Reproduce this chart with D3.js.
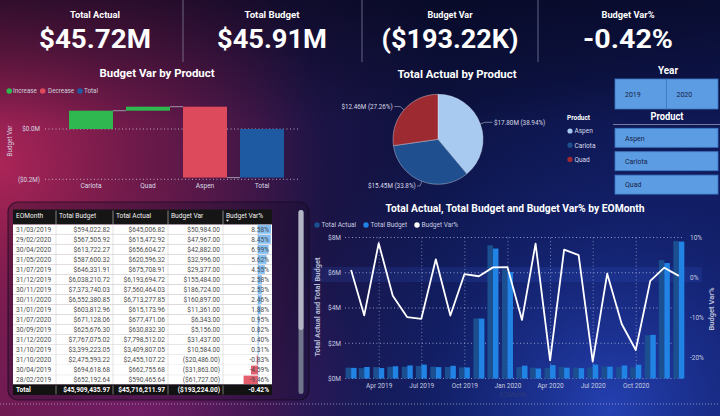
<!DOCTYPE html>
<html><head><meta charset="utf-8">
<script src="https://cdn.jsdelivr.net/npm/d3@7"></script>
<style>html,body{margin:0;padding:0;background:#0b1236;overflow:hidden}svg{display:block}</style>
</head><body><svg id="c" width="720" height="416"></svg>
<script>
// ---------------- DATA ----------------
const eoMonths = ["2019-01-31","2019-02-28","2019-03-31","2019-04-30","2019-05-31","2019-06-30","2019-07-31","2019-08-31","2019-09-30","2019-10-31","2019-11-30","2019-12-31","2020-01-31","2020-02-29","2020-03-31","2020-04-30","2020-05-31","2020-06-30","2020-07-31","2020-08-31","2020-09-30","2020-10-31","2020-11-30","2020-12-31"];
const totalBudget = [603812.96,652192.64,594022.82,694618.68,740000,790000,646331.91,720000,625676.30,3399223.05,7373740.03,6038210.72,730000,567505.92,760000,613722.27,587600.32,790000,671128.06,740000,776601.20,2475593.22,6552380.85,7767075.02];
const totalActual = [615173.96,590465.64,645006.82,662755.68,666624,708364,675708.91,651544,630832.30,3409807.05,7560464.03,6193694.72,652534,615472.92,602504,656604.27,620596.32,623834,677471.06,654044,635813.20,2455107.22,6713277.85,7798512.02];

const wfProducts = ["Carlota","Quad","Aspen"];
const wfVar = [72800, 15900, -281924];
const wfTicks = [0, -200000];

const pieProducts = ["Aspen","Carlota","Quad"];
const pieActual = [17801893, 15452079, 12462240];

const comboLeftTicks = [0, 2e6, 4e6, 6e6, 8e6];
const comboRightTicks = [0.10, 0, -0.10, -0.20];
const comboXTicks = ["2019-04-01","2019-07-01","2019-10-01","2020-01-01","2020-04-01","2020-07-01","2020-10-01"];

const years = ["2019","2020"];
const tableHeaders = ["EOMonth","Total Budget","Total Actual","Budget Var","Budget Var%"];

// ---------------- HELPERS ----------------
const FONT = "Roboto, 'DejaVu Sans', sans-serif";
const svg = d3.select("#c");
const defs = svg.append("defs");
function T(g, x, y, s, o) {
  o = o || {};
  const t = g.append("text").attr("x", x).attr("y", y).text(s)
    .attr("font-family", o.font || FONT)
    .attr("font-size", o.size || 7)
    .attr("font-weight", o.weight || "normal")
    .attr("fill", o.fill || "#d6d8e6")
    .attr("text-anchor", o.anchor || "start");
  if (o.len) t.attr("textLength", o.len).attr("lengthAdjust", "spacingAndGlyphs");
  if (o.rotate) t.attr("transform", `rotate(-90,${x},${y})`);
  if (o.base) t.attr("dominant-baseline", o.base);
  return t;
}
function grad(type, id, attrs, stops) {
  const g = defs.append(type).attr("id", id);
  Object.entries(attrs).forEach(([k, v]) => g.attr(k, v));
  stops.forEach(s => g.append("stop").attr("offset", s[0]).attr("stop-color", s[1]).attr("stop-opacity", s[2] === undefined ? 1 : s[2]));
}
const fm2 = d3.format("$,.2f");
const money = v => v < 0 ? "(" + fm2(-v) + ")" : fm2(v);
const pct = v => d3.format(".2%")(v).replace("\u2212", "-");
const kpiFmt = v => {
  const a = Math.abs(v);
  const s = a >= 1e6 ? "$" + (a / 1e6).toFixed(2) + "M" : "$" + (a / 1e3).toFixed(2) + "K";
  return v < 0 ? "(" + s + ")" : s;
};

// ---------------- BACKGROUND ----------------
grad("linearGradient", "bgH", {x1: 0, x2: 1, y1: 0, y2: 0},
  [[0, "#5e1642"], [0.22, "#431443"], [0.42, "#1d1446"], [0.62, "#0c1240"], [1, "#0e1650"]]);
grad("radialGradient", "crim", {gradientUnits: "userSpaceOnUse", cx: 0, cy: 165, r: 330},
  [[0, "#b4265a", 0.9], [0.45, "#8e1f50", 0.5], [1, "#8e1f50", 0]]);
grad("radialGradient", "blu", {gradientUnits: "userSpaceOnUse", cx: 610, cy: 410, r: 340},
  [[0, "#2a4ccc", 0.8], [0.55, "#1c35a4", 0.35], [1, "#1c35a4", 0]]);
grad("radialGradient", "mag", {gradientUnits: "userSpaceOnUse", cx: 140, cy: 416, r: 230},
  [[0, "#8a2280", 0.55], [1, "#8a2280", 0]]);
grad("linearGradient", "topdark", {x1: 0, x2: 0, y1: 0, y2: 1},
  [[0, "#06061a", 0.6], [0.17, "#06061a", 0.25], [0.3, "#06061a", 0]]);
svg.append("rect").attr("width", 720).attr("height", 416).attr("fill", "url(#bgH)");
svg.append("rect").attr("width", 720).attr("height", 416).attr("fill", "url(#crim)");
svg.append("rect").attr("width", 720).attr("height", 416).attr("fill", "url(#mag)");
svg.append("rect").attr("width", 720).attr("height", 416).attr("fill", "url(#blu)");
svg.append("rect").attr("width", 720).attr("height", 416).attr("fill", "url(#topdark)");
// full-width dotted separator
svg.append("line").attr("x1", 0).attr("x2", 720).attr("y1", 404).attr("y2", 404)
  .attr("stroke", "#b8bcd8").attr("stroke-opacity", 0.7).attr("stroke-dasharray", "1,2");

// ---------------- KPI CARDS ----------------
const dates = eoMonths.map(d3.timeParse("%Y-%m-%d"));
const sumA = d3.sum(totalActual), sumB = d3.sum(totalBudget), sumV = sumA - sumB;
const kpis = [
  {t: "Total Actual", v: kpiFmt(sumA), cx: 95, tl: 50, vl: 112},
  {t: "Total Budget", v: kpiFmt(sumB), cx: 272, tl: 55, vl: 110},
  {t: "Budget Var", v: kpiFmt(sumV), cx: 450, tl: 45, vl: 137},
  {t: "Budget Var%", v: pct(sumV / sumB), cx: 628, tl: 53, vl: 90}
];
const kg = svg.append("g");
kpis.forEach(k => {
  T(kg, k.cx, 17.5, k.t, {size: 9.5, weight: "bold", fill: "#ffffff", anchor: "middle", len: k.tl});
  T(kg, k.cx, 48, k.v, {size: 25, weight: "bold", fill: "#ffffff", anchor: "middle", len: k.vl});
});
[183, 362, 538].forEach(x => kg.append("line").attr("x1", x).attr("x2", x).attr("y1", 0).attr("y2", 62)
  .attr("stroke", "#a8acc8").attr("stroke-opacity", 0.55));

// ---------------- WATERFALL ----------------
const wg = svg.append("g");
T(wg, 157, 77, "Budget Var by Product", {size: 11.5, weight: "bold", fill: "#fff", anchor: "middle", len: 115});
const wfColors = {Increase: "#2fb84f", Decrease: "#dc4a5c", Total: "#1d5aa2"};
[["Increase", 9.3, 13], ["Decrease", 42.7, 48], ["Total", 80, 84]].forEach(([n, cx, tx]) => {
  wg.append("circle").attr("cx", cx).attr("cy", 91).attr("r", 2.8).attr("fill", wfColors[n]);
  T(wg, tx, 93.3, n, {size: 6.3, fill: "#d0d0dc"});
});
const wfCats = wfProducts.concat(["Total"]);
const xW = d3.scaleBand().domain(wfCats).range([62.5, 290.5]).paddingInner(0.228).paddingOuter(0.114);
const yW = d3.scaleLinear().domain([-200000, 0]).range([179.3, 129]);
wfTicks.forEach(t => {
  wg.append("line").attr("x1", 45).attr("x2", 300).attr("y1", yW(t)).attr("y2", yW(t))
    .attr("stroke", "#d0d0e0").attr("stroke-opacity", 0.8).attr("stroke-dasharray", "1,2.5");
  T(wg, 40, yW(t) + 2.3, t < 0 ? "($" + (-t / 1e6).toFixed(1) + "M)" : "$" + (t / 1e6).toFixed(1) + "M", {size: 6.3, fill: "#d6d6e2", anchor: "end"});
});
T(wg, 12, 141, "Budget Var", {size: 6.3, fill: "#d6d6e2", anchor: "middle", rotate: true});
let cum = 0;
const wfSteps = wfProducts.map((p, i) => {
  const s = {cat: p, start: cum, end: cum + wfVar[i], type: wfVar[i] >= 0 ? "Increase" : "Decrease"};
  cum += wfVar[i];
  return s;
});
wfSteps.push({cat: "Total", start: 0, end: cum, type: "Total"});
wfSteps.forEach((s, i) => {
  wg.append("rect").attr("x", xW(s.cat)).attr("width", xW.bandwidth())
    .attr("y", yW(Math.max(s.start, s.end))).attr("height", Math.abs(yW(s.start) - yW(s.end)))
    .attr("fill", wfColors[s.type]);
  if (i < wfSteps.length - 1) {
    const n = wfSteps[i + 1];
    wg.append("line").attr("x1", xW(s.cat) + xW.bandwidth()).attr("x2", xW(n.cat))
      .attr("y1", yW(s.end)).attr("y2", yW(s.end)).attr("stroke", "#9a96a8").attr("stroke-width", 1);
  }
  T(wg, xW(s.cat) + xW.bandwidth() / 2, 188, s.cat, {size: 6.6, fill: "#d8d8e4", anchor: "middle"});
});

// ---------------- PIE ----------------
const pg = svg.append("g");
T(pg, 457, 77.5, "Total Actual by Product", {size: 11.5, weight: "bold", fill: "#fff", anchor: "middle", len: 119});
const pieColors = d3.scaleOrdinal().domain(pieProducts).range(["#a8caf0", "#1f4f8e", "#9c2a30"]);
const pieTotal = d3.sum(pieActual);
const pieData = d3.pie().sort(null)(pieActual.map((v, i) => ({p: pieProducts[i], v})).map(d => d.v))
  .map((a, i) => Object.assign(a, {p: pieProducts[i]}));
const pcx = 438, pcy = 139.3, pr = 45;
const arc = d3.arc().innerRadius(0).outerRadius(pr);
const pieG = pg.append("g").attr("transform", `translate(${pcx},${pcy})`);
pieG.selectAll("path").data(pieData).join("path").attr("d", arc)
  .attr("fill", d => pieColors(d.p)).attr("stroke", "#dfe8f6").attr("stroke-width", 0.4);
pieData.forEach(d => {
  const m = (d.startAngle + d.endAngle) / 2;
  const p1 = [Math.sin(m) * pr, -Math.cos(m) * pr];
  const p2 = [Math.sin(m) * (pr + 5), -Math.cos(m) * (pr + 5)];
  const side = Math.sin(m) >= 0 ? 1 : -1;
  const off = 8 * Math.abs(Math.sin(m));
  const p3 = [p2[0] + side * off, p2[1]];
  pieG.append("polyline").attr("points", [p1, p2, p3].map(q => q.join(",")).join(" "))
    .attr("fill", "none").attr("stroke", "#9aa0b8").attr("stroke-width", 0.7);
  const lbl = "$" + (d.data / 1e6).toFixed(2) + "M (" + d3.format(".4~p")(d.data / pieTotal) + ")";
  T(pieG, p3[0] + side * 1.5, p3[1] + 2.3, lbl, {size: 6.3, fill: "#d8dae8", anchor: side > 0 ? "start" : "end"});
});
T(pg, 567, 120, "Product", {size: 6.5, weight: "bold", fill: "#ffffff"});
pieProducts.forEach((p, i) => {
  const y = 131 + i * 14.2;
  pg.append("circle").attr("cx", 570).attr("cy", y).attr("r", 2.6).attr("fill", pieColors(p));
  T(pg, 574.5, y + 2.3, p, {size: 6.5, fill: "#d8dae8"});
});

// ---------------- SLICERS ----------------
const sg = svg.append("g");
T(sg, 668, 74, "Year", {size: 11, weight: "bold", fill: "#fff", anchor: "middle", len: 20});
years.forEach((y, i) => {
  const x0 = 615 + i * 51.5;
  sg.append("rect").attr("x", x0).attr("y", 79).attr("width", 51.5).attr("height", 30)
    .attr("fill", "#5b9ce2").attr("stroke", "#3d78c2").attr("stroke-width", 0.8);
  T(sg, x0 + 10, 97, y, {size: 7, fill: "#172348"});
});
T(sg, 667, 120, "Product", {size: 10.5, weight: "bold", fill: "#fff", anchor: "middle", len: 33});
sg.append("line").attr("x1", 613).attr("x2", 720).attr("y1", 124.5).attr("y2", 124.5).attr("stroke", "#8f95b8").attr("stroke-width", 0.8);
pieProducts.forEach((p, i) => {
  const y0 = 128.3 + i * 23.4;
  sg.append("rect").attr("x", 615).attr("y", y0).attr("width", 103).attr("height", 19)
    .attr("fill", "#5b9ce2").attr("stroke", "#3d78c2").attr("stroke-width", 0.8);
  T(sg, 625, y0 + 12.3, p, {size: 7, fill: "#172348"});
});

// ---------------- TABLE ----------------
const tg = svg.append("g");
tg.append("rect").attr("x", 8).attr("y", 202).attr("width", 301).attr("height", 198).attr("rx", 10)
  .attr("fill", "#140c28").attr("fill-opacity", 0.3).attr("stroke", "#100818").attr("stroke-opacity", 0.6).attr("stroke-width", 1.2);
const cols = [13, 56, 113, 168, 223, 272];
const rows = dates.map((d, i) => ({d, b: totalBudget[i], a: totalActual[i], v: totalActual[i] - totalBudget[i], p: (totalActual[i] - totalBudget[i]) / totalBudget[i]}))
  .sort((r1, r2) => r2.p - r1.p);
const fDate = d3.timeFormat("%d/%m/%Y");
const hy0 = 209.5, hy1 = 224.3, rh = 10.05, dataBottom = 384.5;
tg.append("rect").attr("x", cols[0]).attr("y", hy0).attr("width", cols[5] - cols[0]).attr("height", hy1 - hy0).attr("fill", "#151515");
tableHeaders.forEach((h, i) => {
  T(tg, cols[i] + 3, 217.5, h, {size: 6.6, fill: "#f2f2f2"});
  if (i > 0) tg.append("line").attr("x1", cols[i]).attr("x2", cols[i]).attr("y1", hy0 + 1).attr("y2", hy1).attr("stroke", "#cfcfcf").attr("stroke-width", 0.6);
});
tg.append("path").attr("d", `M${cols[4] + 3},219.8 l3,0 l-1.5,2 z`).attr("fill", "#f2f2f2");
defs.append("clipPath").attr("id", "tclip").append("rect").attr("x", cols[0]).attr("y", hy1).attr("width", cols[5] - cols[0]).attr("height", dataBottom - hy1);
const body = tg.append("g").attr("clip-path", "url(#tclip)");
const xBar = d3.scaleLinear().domain(d3.extent(rows, r => r.p)).range([cols[4] + 3, cols[5] - 1]);
rows.forEach((r, i) => {
  const y0 = hy1 + i * rh;
  if (y0 > dataBottom) return;
  body.append("rect").attr("x", cols[0]).attr("y", y0).attr("width", cols[5] - cols[0]).attr("height", rh).attr("fill", "#ffffff");
  body.append("line").attr("x1", cols[0]).attr("x2", cols[5]).attr("y1", y0 + rh).attr("y2", y0 + rh).attr("stroke", "#dadada").attr("stroke-width", 0.6);
  body.append("rect").attr("x", Math.min(xBar(0), xBar(r.p))).attr("y", y0 + 0.6).attr("width", Math.abs(xBar(r.p) - xBar(0))).attr("height", rh - 1.2)
    .attr("fill", r.p >= 0 ? "#86c0f2" : "#e45e6e");
  const ty = y0 + rh / 2 + 2.3;
  T(body, cols[0] + 3, ty, fDate(r.d), {size: 6.6, fill: "#4a4a4a"});
  [money(r.b), money(r.a), money(r.v), pct(r.p)].forEach((s, j) => T(body, cols[j + 2] - 3, ty, s, {size: 6.6, fill: "#4a4a4a", anchor: "end"}));
});
for (let i = 1; i < 5; i++) body.append("line").attr("x1", cols[i]).attr("x2", cols[i]).attr("y1", hy1).attr("y2", dataBottom).attr("stroke", "#d2d2d2").attr("stroke-width", 0.6);
body.append("line").attr("x1", xBar(0)).attr("x2", xBar(0)).attr("y1", hy1).attr("y2", dataBottom).attr("stroke", "#3a7fd0").attr("stroke-width", 0.6).attr("stroke-dasharray", "1,1");
// total row
tg.append("rect").attr("x", cols[0]).attr("y", dataBottom).attr("width", cols[5] - cols[0]).attr("height", 10.5).attr("fill", "#121212");
T(tg, cols[0] + 3, dataBottom + 7.6, "Total", {size: 6.6, weight: "bold", fill: "#fff"});
[money(sumB), money(sumA), money(sumV), pct(sumV / sumB)].forEach((s, j) => T(tg, cols[j + 2] - 3, dataBottom + 7.6, s, {size: 6.6, weight: "bold", fill: "#fff", anchor: "end"}));
for (let i = 1; i < 5; i++) tg.append("line").attr("x1", cols[i]).attr("x2", cols[i]).attr("y1", dataBottom + 1).attr("y2", dataBottom + 10).attr("stroke", "#bbbbbb").attr("stroke-width", 0.6);
// scrollbar
tg.append("rect").attr("x", 298.5).attr("y", 210).attr("width", 5).attr("height", 184).attr("rx", 2.5).attr("fill", "#70748c");
tg.append("rect").attr("x", 298.5).attr("y", 210).attr("width", 5).attr("height", 120).attr("rx", 2.5).attr("fill", "#b4b6c6");

// ---------------- COMBO CHART ----------------
const cg = svg.append("g");
T(cg, 515, 211.5, "Total Actual, Total Budget and Budget Var% by EOMonth", {size: 11, weight: "bold", fill: "#fff", anchor: "middle", len: 259});
const comboColors = {a: "#1b4f90", b: "#2183e4", p: "#ffffff"};
[["Total Actual", 317, comboColors.a], ["Total Budget", 366, comboColors.b], ["Budget Var%", 417, comboColors.p]].forEach(([n, cx, c]) => {
  cg.append("circle").attr("cx", cx).attr("cy", 225).attr("r", 2.7).attr("fill", c);
  T(cg, cx + 4.5, 227.3, n, {size: 6.5, fill: "#c8cce0"});
});
const x = d3.scaleTime().domain([new Date(2019, 0, 18), new Date(2021, 0, 11)]).range([345, 684]);
const yL = d3.scaleLinear().domain([0, 8e6]).range([378.5, 237.5]);
const yR = d3.scaleLinear().domain([-0.2525, 0.10]).range([378.5, 237.5]);
// decorative glow band
cg.append("rect").attr("x", 312).attr("y", 267).attr("width", 390).attr("height", 15).attr("fill", "#3b62e0").attr("opacity", 0.16);
comboLeftTicks.forEach(t => {
  cg.append("line").attr("x1", 345).attr("x2", 684).attr("y1", yL(t)).attr("y2", yL(t))
    .attr("stroke", "#b8c0e8").attr("stroke-opacity", 0.75).attr("stroke-dasharray", "1,2.5");
  T(cg, 341, yL(t) + 2.3, "$" + (t / 1e6) + "M", {size: 6.5, fill: "#c8cce0", anchor: "end"});
});
comboRightTicks.forEach(t => T(cg, 690, yR(t) + 2.3, d3.format(".0%")(t).replace("\u2212", "-"), {size: 6.5, fill: "#c8cce0"}));
const xt = comboXTicks.map(d3.timeParse("%Y-%m-%d"));
xt.forEach(t => {
  cg.append("line").attr("x1", x(t)).attr("x2", x(t)).attr("y1", 237.5).attr("y2", 378.5)
    .attr("stroke", "#b8c0e8").attr("stroke-opacity", 0.6).attr("stroke-dasharray", "1,2.5");
  T(cg, x(t), 388, d3.timeFormat("%b %Y")(t), {size: 6.5, fill: "#c8cce0", anchor: "middle"});
});
const bw = 5.5;
dates.forEach((d, i) => {
  const cx = x(d);
  cg.append("rect").attr("x", cx - bw).attr("width", bw).attr("y", yL(totalActual[i])).attr("height", yL(0) - yL(totalActual[i])).attr("fill", comboColors.a);
  cg.append("rect").attr("x", cx).attr("width", bw).attr("y", yL(totalBudget[i])).attr("height", yL(0) - yL(totalBudget[i])).attr("fill", comboColors.b);
});
const varPct = dates.map((d, i) => (totalActual[i] - totalBudget[i]) / totalBudget[i]);
cg.append("path").datum(dates).attr("fill", "none").attr("stroke", "#ffffff").attr("stroke-width", 1.8).attr("stroke-linejoin", "round")
  .attr("d", d3.line().x(d => x(d)).y((d, i) => yR(varPct[i])));
T(cg, 320, 307, "Total Actual and Total Budget", {size: 7.5, weight: "bold", fill: "#b8bdd6", anchor: "middle", rotate: true});
T(cg, 714, 309, "Budget Var%", {size: 7.5, weight: "bold", fill: "#b8bdd6", anchor: "middle", rotate: true});
T(cg, 513, 397, "EOMonth", {size: 6.5, fill: "#2c3a7c", anchor: "middle"});
</script></body></html>
